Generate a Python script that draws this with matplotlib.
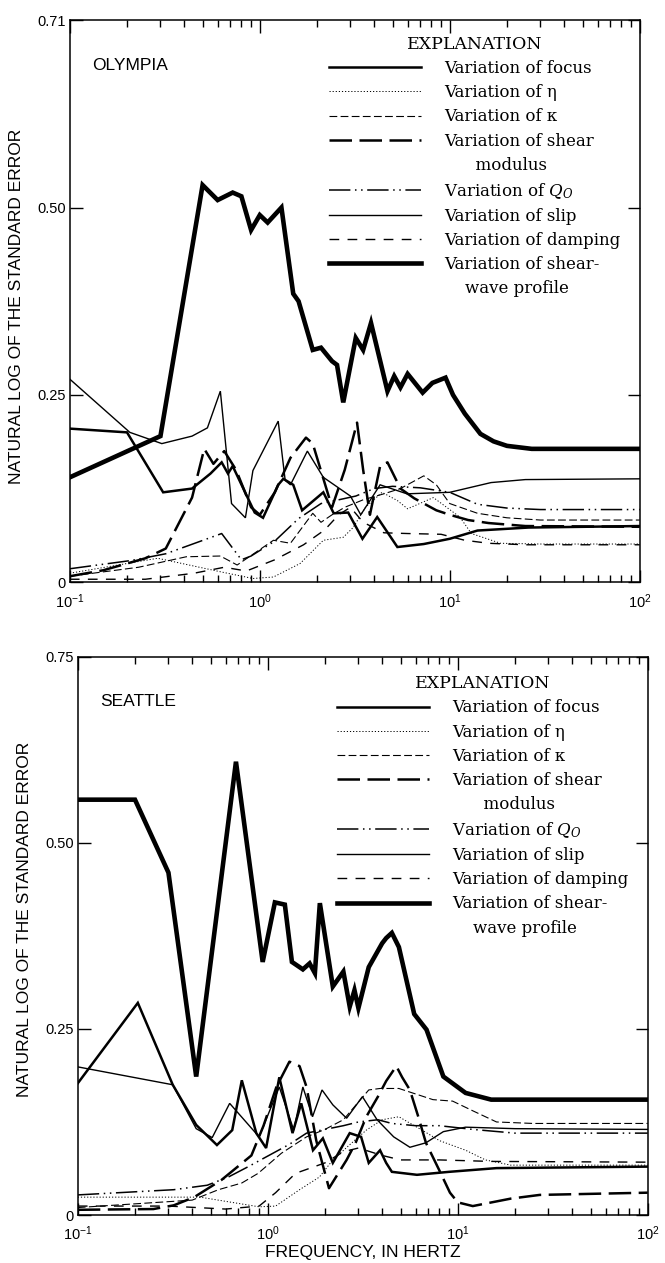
import matplotlib
matplotlib.use("Agg")
from matplotlib import pyplot as plt
from matplotlib.lines import Line2D
from matplotlib.ticker import LogLocator, NullFormatter

plt.rcParams["font.family"] = ["Liberation Sans", "DejaVu Sans"]
plt.rcParams["mathtext.fontset"] = "custom"
plt.rcParams["mathtext.rm"] = "Liberation Sans"
plt.rcParams["mathtext.it"] = "DejaVu Serif:italic"

# ---- Olympia (top panel) ----
oly_profile_f = [0.1, 0.3, 0.5, 0.6, 0.72, 0.8, 0.9, 1.0, 1.1, 1.3, 1.5, 1.6, 1.9, 2.1, 2.4, 2.55, 2.75, 3.2, 3.5,
                 3.85, 4.7, 5.1, 5.5, 6.0, 7.2, 8.1, 9.5, 10.4, 12, 14.5, 17, 20, 27, 100]
oly_profile = [0.14, 0.195, 0.53, 0.51, 0.52, 0.515, 0.47, 0.49, 0.48, 0.50, 0.385, 0.375, 0.31, 0.313, 0.295, 0.29,
               0.24, 0.326, 0.31, 0.346, 0.255, 0.275, 0.26, 0.278, 0.253, 0.266, 0.273, 0.25, 0.225, 0.198, 0.188,
               0.182, 0.178, 0.178]
oly_focus_f = [0.1, 0.2, 0.31, 0.44, 0.55, 0.63, 0.68, 0.72, 0.94, 1.04, 1.25, 1.33, 1.5, 1.67, 2.16, 2.45, 2.92,
               3.47, 4.15, 5.3, 7.3, 10, 14, 26, 100]
oly_focus = [0.205, 0.20, 0.12, 0.125, 0.145, 0.16, 0.145, 0.155, 0.093, 0.086, 0.13, 0.138, 0.13, 0.096, 0.12,
             0.092, 0.093, 0.058, 0.087, 0.047, 0.051, 0.058, 0.069, 0.073, 0.075]
oly_eta_f = [0.1, 0.29, 0.62, 0.92, 1.18, 1.63, 2.16, 2.75, 3.1, 3.6, 4.4, 5.3, 6.0, 8.2, 11.3, 13, 18.5, 30, 100]
oly_eta = [0.012, 0.032, 0.014, 0.005, 0.007, 0.025, 0.056, 0.06, 0.073, 0.10, 0.12, 0.109, 0.098, 0.113, 0.087,
           0.065, 0.052, 0.051, 0.051]
oly_kappa_f = [0.1, 0.23, 0.41, 0.62, 0.76, 1.18, 1.45, 1.9, 2.1, 2.4, 2.8, 3.5, 4.5, 5.5, 7.3, 8.5, 10, 14, 20, 30,
               100]
oly_kappa = [0.008, 0.02, 0.034, 0.035, 0.023, 0.056, 0.052, 0.092, 0.08, 0.09, 0.10, 0.11, 0.118, 0.125, 0.142,
             0.13, 0.105, 0.092, 0.086, 0.083, 0.083]
oly_shear_f = [0.1, 0.15, 0.25, 0.32, 0.44, 0.51, 0.57, 0.65, 0.75, 0.9, 1.0, 1.2, 1.45, 1.75, 1.9, 2.4, 2.8, 3.25,
               3.5, 3.8, 4.3, 4.7, 5.5, 6.5, 8.5, 10, 12.5, 16, 25, 100]
oly_shear = [0.008, 0.016, 0.032, 0.045, 0.113, 0.178, 0.158, 0.175, 0.15, 0.10, 0.09, 0.12, 0.166, 0.193, 0.185,
             0.10, 0.15, 0.213, 0.15, 0.09, 0.155, 0.16, 0.125, 0.112, 0.096, 0.09, 0.083, 0.079, 0.075, 0.074]
oly_q0_f = [0.1, 0.21, 0.32, 0.63, 0.8, 0.9, 1.2, 1.6, 2.1, 2.6, 3.2, 4.0, 5, 7, 10, 14, 20, 30, 100]
oly_q0 = [0.018, 0.029, 0.038, 0.065, 0.03, 0.035, 0.055, 0.085, 0.105, 0.11, 0.115, 0.125, 0.128, 0.126, 0.12,
          0.104, 0.099, 0.097, 0.097]
oly_slip_f = [0.1, 0.207, 0.305, 0.44, 0.53, 0.62, 0.71, 0.84, 0.92, 1.25, 1.36, 1.45, 1.78, 2.16, 3.0, 3.4, 4.3,
              5.95, 10, 16.5, 25, 100]
oly_slip = [0.271, 0.20, 0.185, 0.195, 0.206, 0.255, 0.105, 0.086, 0.149, 0.215, 0.136, 0.13, 0.175, 0.14, 0.115,
            0.09, 0.13, 0.118, 0.12, 0.133, 0.137, 0.138]
oly_damp_f = [0.1, 0.25, 0.45, 0.65, 0.85, 1.2, 1.7, 2.2, 2.6, 3.0, 3.5, 4.5, 6, 9, 12, 16, 25, 100]
oly_damp = [0.004, 0.004, 0.012, 0.02, 0.015, 0.03, 0.05, 0.07, 0.09, 0.1, 0.08, 0.066, 0.065, 0.064, 0.056, 0.052,
            0.05, 0.05]

# ---- Seattle (bottom panel) ----
sea_profile_f = [0.1, 0.2, 0.3, 0.42, 0.68, 0.94, 1.09, 1.23, 1.34, 1.53, 1.66, 1.77, 1.88, 2.2, 2.5, 2.7, 2.86, 3.0,
                 3.4, 4.0, 4.2, 4.5, 4.9, 5.9, 6.85, 8.4, 11, 15, 100]
sea_profile = [0.558, 0.558, 0.46, 0.186, 0.609, 0.34, 0.42, 0.417, 0.34, 0.33, 0.338, 0.325, 0.419, 0.307, 0.327,
               0.28, 0.302, 0.278, 0.333, 0.365, 0.372, 0.379, 0.36, 0.27, 0.249, 0.186, 0.164, 0.155, 0.155]
sea_focus_f = [0.1, 0.207, 0.316, 0.42, 0.54, 0.65, 0.73, 0.87, 0.98, 1.15, 1.35, 1.5, 1.73, 1.95, 2.2, 2.7, 3.1,
               3.4, 3.9, 4.2, 4.5, 6.1, 9, 16, 100]
sea_focus = [0.177, 0.285, 0.175, 0.121, 0.094, 0.114, 0.181, 0.11, 0.09, 0.185, 0.11, 0.15, 0.087, 0.103, 0.07,
             0.11, 0.105, 0.07, 0.087, 0.07, 0.058, 0.054, 0.058, 0.063, 0.065]
sea_eta_f = [0.1, 0.44, 0.9, 1.1, 1.47, 1.87, 2.2, 2.8, 3.3, 4.0, 4.9, 6.9, 8, 11, 14, 19, 100]
sea_eta = [0.024, 0.024, 0.011, 0.012, 0.034, 0.051, 0.074, 0.098, 0.114, 0.128, 0.132, 0.11, 0.1, 0.087, 0.074,
           0.067, 0.067]
sea_kappa_f = [0.1, 0.4, 0.55, 0.73, 0.89, 1.18, 1.6, 2.0, 2.5, 3.4, 3.9, 4.9, 7.4, 9.4, 12, 16, 25, 100]
sea_kappa = [0.01, 0.02, 0.034, 0.043, 0.056, 0.083, 0.105, 0.115, 0.128, 0.168, 0.17, 0.17, 0.155, 0.153, 0.14,
             0.125, 0.123, 0.123]
sea_shear_f = [0.1, 0.25, 0.32, 0.41, 0.57, 0.82, 0.95, 1.11, 1.3, 1.47, 1.6, 1.8, 2.1, 2.6, 2.9, 3.3, 3.8, 4.2,
               4.75, 5.1, 5.6, 6.2, 6.8, 8.0, 9.1, 10, 12, 19, 27, 100]
sea_shear = [0.007, 0.008, 0.013, 0.024, 0.047, 0.08, 0.12, 0.172, 0.206, 0.2, 0.172, 0.1, 0.036, 0.074, 0.097,
             0.132, 0.159, 0.18, 0.2, 0.185, 0.168, 0.132, 0.097, 0.06, 0.03, 0.017, 0.012, 0.022, 0.027, 0.03]
sea_q0_f = [0.1, 0.32, 0.48, 0.62, 0.79, 0.98, 1.3, 1.6, 2.0, 2.5, 3.0, 3.8, 4.5, 6, 8, 12, 20, 100]
sea_q0 = [0.027, 0.034, 0.04, 0.051, 0.065, 0.078, 0.095, 0.11, 0.115, 0.12, 0.125, 0.128, 0.123, 0.12, 0.12, 0.115,
          0.11, 0.11]
sea_slip_f = [0.1, 0.316, 0.42, 0.51, 0.63, 0.9, 1.15, 1.37, 1.53, 1.72, 1.93, 2.2, 2.6, 3.15, 3.76, 4.6, 5.6, 6.8,
              8.4, 11, 20, 100]
sea_slip = [0.199, 0.175, 0.116, 0.104, 0.15, 0.105, 0.172, 0.114, 0.172, 0.132, 0.168, 0.148, 0.13, 0.159, 0.128,
            0.105, 0.091, 0.097, 0.112, 0.118, 0.116, 0.115]
sea_damp_f = [0.1, 0.3, 0.6, 0.9, 1.1, 1.4, 2.0, 2.5, 3.0, 4.0, 5.0, 8, 15, 100]
sea_damp = [0.012, 0.012, 0.008, 0.012, 0.03, 0.056, 0.07, 0.085, 0.09, 0.08, 0.074, 0.074, 0.072, 0.071]

# legend rows; None marks a continuation line with no line sample
labels = ["Variation of focus", "Variation of η", "Variation of κ", "Variation of shear",
          "      modulus", r"Variation of $Q_O$", "Variation of slip", "Variation of damping",
          "Variation of shear-", "    wave profile"]
label_series = [0, 1, 2, 3, None, 4, 5, 6, 7, None]

styles = [dict(lw=1.8, ls="-"),
          dict(lw=0.7, ls=(0, (1.2, 2))),
          dict(lw=0.8, ls=(0, (7, 3))),
          dict(lw=1.8, ls=(0, (9, 3))),
          dict(lw=1.1, ls=(0, (14, 3, 1, 3, 1, 3))),
          dict(lw=1.0, ls="-"),
          dict(lw=1.0, ls=(0, (7, 6))),
          dict(lw=3.3, ls="-")]


def plot_panel(ax, series, site, top_label, ylabel_y, leg_top):
    lines = []
    for (f, v), st in zip(series, styles):
        ln, = ax.plot(f, v, color="black", solid_joinstyle="miter", **st)
        lines.append(ln)
    ax.set_xscale("log")
    ax.set_xlim(0.1, 100)
    ax.set_ylim(0, 0.75)
    ax.set_xticks([0.1, 1, 10, 100], labels=[r"$10^{-1}$", r"$10^{0}$", r"$10^{1}$", r"$10^{2}$"])
    ax.xaxis.set_minor_locator(LogLocator(base=10, subs=range(2, 10)))
    ax.xaxis.set_minor_formatter(NullFormatter())
    ax.set_yticks([0, 0.25, 0.5, 0.75], labels=["0", "0.25", "0.50", top_label])
    ax.tick_params(which="both", direction="in", top=True, right=True, width=1, labelsize=10.5)
    ax.tick_params(which="major", length=9)
    ax.tick_params(which="minor", length=5)
    ax.tick_params(axis="x", pad=7)
    ax.tick_params(axis="y", pad=3)
    for s in ax.spines.values():
        s.set_linewidth(1.1)
    ax.text(0.04, 0.92, site, transform=ax.transAxes, fontsize=12.5, va="center")
    ax.set_ylabel("NATURAL LOG OF THE STANDARD ERROR", fontsize=12.5)
    ax.yaxis.set_label_coords(-0.08, ylabel_y)

    handles = [lines[i] if i is not None else Line2D([], [], ls="none") for i in label_series]
    ax.legend(handles, labels, loc="upper left", bbox_to_anchor=(0.455, leg_top), frameon=False,
              title="EXPLANATION", prop={"family": "DejaVu Serif", "size": 12},
              title_fontproperties={"family": "DejaVu Serif", "size": 12.5},
              handlelength=5.5, handletextpad=1.4, labelspacing=0.43, borderpad=0, borderaxespad=0)


fig = plt.figure(figsize=(6.65, 12.63), dpi=100)
ax1 = fig.add_axes([0.105, 0.539, 0.857, 0.445])
ax2 = fig.add_axes([0.117, 0.038, 0.857, 0.442])

plot_panel(ax1, [(oly_focus_f, oly_focus), (oly_eta_f, oly_eta), (oly_kappa_f, oly_kappa),
                 (oly_shear_f, oly_shear), (oly_q0_f, oly_q0), (oly_slip_f, oly_slip),
                 (oly_damp_f, oly_damp), (oly_profile_f, oly_profile)], "OLYMPIA", "0.71", 0.49, 0.972)
plot_panel(ax2, [(sea_focus_f, sea_focus), (sea_eta_f, sea_eta), (sea_kappa_f, sea_kappa),
                 (sea_shear_f, sea_shear), (sea_q0_f, sea_q0), (sea_slip_f, sea_slip),
                 (sea_damp_f, sea_damp), (sea_profile_f, sea_profile)], "SEATTLE", "0.75", 0.53, 0.967)
ax2.set_xlabel("FREQUENCY, IN HERTZ", fontsize=12.5, labelpad=1)

plt.savefig("out.png", dpi=100)
